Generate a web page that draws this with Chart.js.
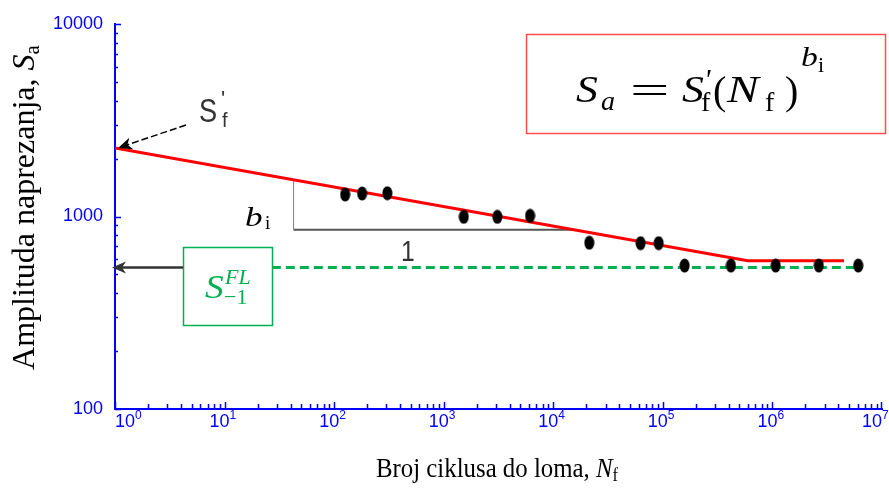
<!DOCTYPE html>
<html>
<head>
<meta charset="utf-8">
<script src="https://cdn.jsdelivr.net/npm/chart.js@4.4.0/dist/chart.umd.min.js"></script>
<style>
  html, body { margin: 0; padding: 0; background: #fff; }
  #wrap { width: 889px; height: 490px; position: relative; }
</style>
</head>
<body>
<div id="wrap"><canvas id="snGraf"></canvas></div>
<script>
// Mjerenja: broj ciklusa do loma i amplituda naprezanja
const cycles = [126, 180, 306, 1525, 3085, 6140, 21300, 62600, 91500, 158000, 418000, 1.07e6, 2.65e6, 6.07e6];
const amplitudes = [1301, 1316, 1321, 996, 996, 1008, 730, 727, 727, 556, 556, 556, 556, 556];

// Basquin pravac + horizontalni dio
const fitCycles = [1, 5.95e5, 4.5e6];
const fitAmplitudes = [2270, 589, 589];

// Trajna dinamicka cvrstoca S-1^FL
const limitCycles = [27, 6.7e6];
const limitAmplitudes = [543, 543];

// Trokut nagiba b_i
const slopeCycles = [42.6, 42.6, 15400];
const slopeAmplitudes = [1553, 853, 853];

// Oznake osi
const xTickValues = [1, 10, 100, 1e3, 1e4, 1e5, 1e6, 1e7];
const xTickExponents = ['0', '1', '2', '3', '4', '5', '6', '7'];
const yTickValues = [100, 1000, 10000];
const yTickLabels = ['100', '1000', '10000'];

const SERIF = "'Liberation Serif', 'Times New Roman', serif";
const SANS = "'Liberation Sans', Arial, sans-serif";
const BLUE = '#0000ff';
const GREEN = '#00b050';

// elipticna tocka (slika je malo razvucena)
const dot = document.createElement('canvas');
dot.width = 11; dot.height = 15;
const dc = dot.getContext('2d');
dc.fillStyle = '#000';
dc.beginPath(); dc.ellipse(5.5, 7.5, 5, 7, 0, 0, Math.PI * 2); dc.fill();

function pts(xs, ys) { return xs.map((x, i) => ({ x: x, y: ys[i] })); }

function txt(ctx, s, x, y, font, color, sx) {
  ctx.save();
  ctx.font = font; ctx.fillStyle = color || '#000';
  ctx.textAlign = 'left'; ctx.textBaseline = 'alphabetic';
  ctx.translate(x, y); ctx.scale(sx || 1, 1);
  ctx.fillText(s, 0, 0);
  ctx.restore();
}

function arrow(ctx, x1, y1, x2, y2, color, lw, dash) {
  const a = Math.atan2(y2 - y1, x2 - x1);
  ctx.save();
  ctx.strokeStyle = color; ctx.fillStyle = color; ctx.lineWidth = lw;
  ctx.setLineDash(dash || []);
  ctx.beginPath(); ctx.moveTo(x1, y1);
  ctx.lineTo(x2 - 8 * Math.cos(a), y2 - 8 * Math.sin(a)); ctx.stroke();
  ctx.setLineDash([]);
  ctx.translate(x2, y2); ctx.rotate(a);
  ctx.beginPath();
  ctx.moveTo(0, 0); ctx.lineTo(-14, -6); ctx.lineTo(-10, 0); ctx.lineTo(-14, 6);
  ctx.closePath(); ctx.fill();
  ctx.restore();
}

// male crtice na osima (prema unutra) + oznake 10^n na x osi
const tickMarks = {
  id: 'tickMarks',
  afterDatasetsDraw(chart) {
    const ctx = chart.ctx, xs = chart.scales.x, ys = chart.scales.y;
    ctx.save();
    ctx.strokeStyle = BLUE; ctx.lineWidth = 1.5;
    ctx.beginPath();
    for (let e = 0; e <= 6; e++) {
      for (let m = 1; m <= 9; m++) {
        const px = Math.round(xs.getPixelForValue(m * Math.pow(10, e))) + 0.5;
        ctx.moveTo(px, ys.bottom); ctx.lineTo(px, ys.bottom - (m === 1 ? 7 : 5));
      }
    }
    let px = Math.round(xs.getPixelForValue(1e7)) - 0.5;
    ctx.moveTo(px, ys.bottom); ctx.lineTo(px, ys.bottom - 7);
    for (let e = 2; e <= 3; e++) {
      for (let m = 1; m <= 9; m++) {
        const py = Math.round(ys.getPixelForValue(m * Math.pow(10, e))) + 0.5;
        ctx.moveTo(xs.left, py); ctx.lineTo(xs.left + (m === 1 ? 6 : 3), py);
      }
    }
    const py = Math.round(ys.getPixelForValue(1e4)) + 0.5;
    ctx.moveTo(xs.left, py); ctx.lineTo(xs.left + 6, py);
    ctx.stroke();
    ctx.restore();

    // 10 s eksponentom
    const base = ys.bottom + 18;
    xTickValues.forEach((v, i) => {
      const p = xs.getPixelForValue(v);
      let x0 = p - 15;
      if (i === 0) x0 = p;
      if (i === xTickValues.length - 1) x0 = p - 20;
      txt(ctx, '10', x0, base, '18px ' + SANS, BLUE);
      txt(ctx, xTickExponents[i], x0 + 20, base - 8, '12px ' + SANS, BLUE);
    });
  }
};

// formula, strelice, okviri, naslovi osi
const notes = {
  id: 'notes',
  afterDraw(chart) {
    const ctx = chart.ctx, xs = chart.scales.x, ys = chart.scales.y;

    // formula
    ctx.save();
    ctx.strokeStyle = '#ff4d4d'; ctx.lineWidth = 1.5;
    ctx.strokeRect(526.5, 34.5, 359, 99);
    ctx.restore();
    txt(ctx, 'S', 576, 102, 'italic 38px ' + SERIF, '#000', 1.15);
    txt(ctx, 'a', 601, 110, 'italic 28px ' + SERIF);
    txt(ctx, '=', 630, 104, '40px ' + SERIF, '#000', 1.75);
    txt(ctx, 'S', 682, 102, 'italic 38px ' + SERIF, '#000', 1.15);
    txt(ctx, "'", 704, 89, 'italic 30px ' + SERIF);
    txt(ctx, 'f', 701, 111, '28px ' + SERIF);
    txt(ctx, '(', 713, 104, '40px ' + SERIF);
    txt(ctx, 'N', 727, 102, 'italic 38px ' + SERIF, '#000', 1.25);
    txt(ctx, 'f', 765, 111, '28px ' + SERIF);
    txt(ctx, ')', 785, 104, '40px ' + SERIF);
    txt(ctx, 'b', 801, 66, 'italic 28px ' + SERIF, '#000', 1.2);
    txt(ctx, 'i', 818, 72, '22px ' + SERIF);

    // S'f oznaka i strelica
    txt(ctx, 'S', 199, 122, '34px ' + SANS, '#333', 0.8);
    txt(ctx, "'", 221, 106, '22px ' + SANS, '#333');
    txt(ctx, 'f', 222, 127, '20px ' + SANS, '#333');
    arrow(ctx, 186, 125, xs.getPixelForValue(fitCycles[0]) + 3, ys.getPixelForValue(fitAmplitudes[0]), '#000', 1.5, [7, 3]);

    // trokut nagiba
    txt(ctx, 'b', 245, 226, 'italic 27px ' + SERIF, '#000', 1.3);
    txt(ctx, 'i', 265, 229, '19px ' + SERIF);
    txt(ctx, '1', 401, 261, '29px ' + SANS, '#333', 0.85);

    // S-1^FL okvir i strelica
    const yL = ys.getPixelForValue(limitAmplitudes[0]);
    ctx.save();
    ctx.fillStyle = '#fff'; ctx.fillRect(183.5, 247.5, 89, 78);
    ctx.strokeStyle = GREEN; ctx.lineWidth = 1.5;
    ctx.strokeRect(183.5, 247.5, 89, 78);
    ctx.restore();
    txt(ctx, 'S', 205, 298, 'italic 34px ' + SERIF, GREEN, 1.1);
    txt(ctx, 'FL', 225, 284, 'italic 22px ' + SERIF, GREEN);
    txt(ctx, '−1', 224, 304, '22px ' + SERIF, GREEN);
    arrow(ctx, 183, yL, xs.left - 3, yL, '#333', 2.5);

    // naslov y osi
    ctx.save();
    ctx.translate(34, 207.5); ctx.rotate(-Math.PI / 2);
    ctx.font = '32px ' + SERIF;
    const t1 = 'Amplituda naprezanja, ';
    const w1 = ctx.measureText(t1).width;
    ctx.font = 'italic 32px ' + SERIF;
    const w2 = ctx.measureText('S').width;
    ctx.font = '21px ' + SERIF;
    const w3 = ctx.measureText('a').width;
    let x0 = -(w1 + w2 + w3) / 2;
    txt(ctx, t1, x0, 0, '32px ' + SERIF);
    txt(ctx, 'S', x0 + w1, 0, 'italic 32px ' + SERIF);
    txt(ctx, 'a', x0 + w1 + w2, 5, '21px ' + SERIF);
    ctx.restore();

    // naslov x osi
    ctx.save();
    ctx.translate(497, 477); ctx.scale(0.92, 1);
    ctx.font = '27px ' + SERIF;
    const b1 = 'Broj ciklusa do loma, ';
    const v1 = ctx.measureText(b1).width;
    ctx.font = 'italic 27px ' + SERIF;
    const v2 = ctx.measureText('N').width;
    ctx.font = '18px ' + SERIF;
    const v3 = ctx.measureText('f').width;
    x0 = -(v1 + v2 + v3) / 2;
    txt(ctx, b1, x0, 0, '27px ' + SERIF);
    txt(ctx, 'N', x0 + v1, 0, 'italic 27px ' + SERIF);
    txt(ctx, 'f', x0 + v1 + v2, 4, '18px ' + SERIF);
    ctx.restore();
  }
};

Chart.defaults.font.family = SANS;

new Chart(document.getElementById('snGraf'), {
  type: 'scatter',
  data: {
    datasets: [
      {
        label: 'Mjerenja',
        data: pts(cycles, amplitudes),
        pointStyle: dot,
        pointRadius: 6,
        order: 0
      },
      {
        label: 'Sa = Sf(Nf)^bi',
        data: pts(fitCycles, fitAmplitudes),
        showLine: true,
        borderColor: '#ff0000',
        borderWidth: 3,
        pointRadius: 0,
        order: 1
      },
      {
        label: 'S-1 FL',
        data: pts(limitCycles, limitAmplitudes),
        showLine: true,
        borderColor: GREEN,
        borderWidth: 3,
        borderDash: [9, 5],
        pointRadius: 0,
        order: 2
      },
      {
        label: 'nagib okomito',
        data: pts(slopeCycles.slice(0, 2), slopeAmplitudes.slice(0, 2)),
        showLine: true,
        borderColor: '#888',
        borderWidth: 1,
        pointRadius: 0,
        order: 3
      },
      {
        label: 'nagib vodoravno',
        data: pts(slopeCycles.slice(1), slopeAmplitudes.slice(1)),
        showLine: true,
        borderColor: '#555',
        borderWidth: 2,
        pointRadius: 0,
        order: 3
      }
    ]
  },
  options: {
    responsive: true,
    maintainAspectRatio: false,
    animation: false,
    layout: { padding: { left: 0, top: 24, right: 7, bottom: 0 } },
    plugins: { legend: { display: false }, tooltip: { enabled: false } },
    scales: {
      x: {
        type: 'logarithmic',
        min: 1,
        max: 1e7,
        grid: { display: false },
        border: { display: true, color: BLUE, width: 2 },
        afterBuildTicks: s => { s.ticks = xTickValues.map(v => ({ value: v })); },
        afterFit: s => { s.height = 81; s.paddingLeft = 0; s.paddingRight = 0; },
        ticks: { display: false }
      },
      y: {
        type: 'logarithmic',
        min: 100,
        max: 10000,
        grid: { display: false },
        border: { display: true, color: BLUE, width: 2 },
        afterBuildTicks: s => { s.ticks = yTickValues.map(v => ({ value: v })); },
        afterFit: s => { s.width = 115; s.paddingTop = 0; s.paddingBottom = 0; },
        ticks: {
          autoSkip: false,
          padding: 4,
          color: BLUE,
          font: { size: 18 },
          callback: (v, i) => yTickLabels[i]
        }
      }
    }
  },
  plugins: [tickMarks, notes]
});
</script>
</body>
</html>
